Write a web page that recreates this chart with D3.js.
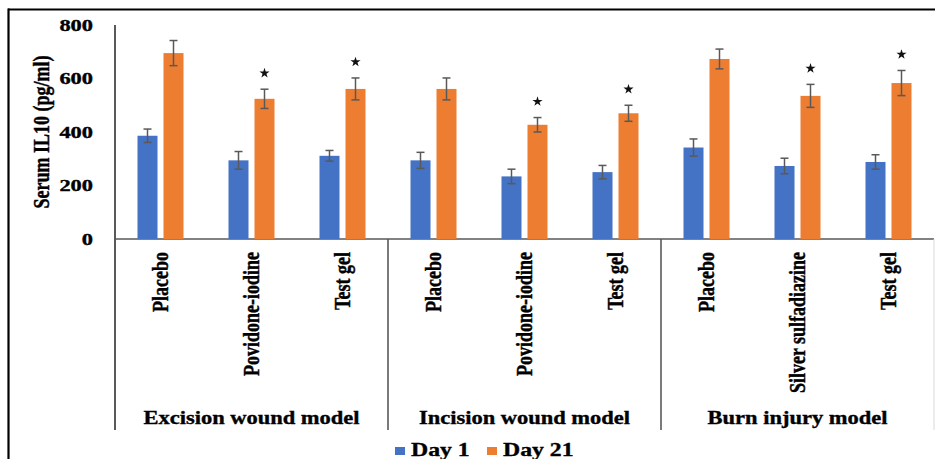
<!DOCTYPE html>
<html>
<head>
<meta charset="utf-8">
<script src="https://cdn.jsdelivr.net/npm/d3@7"></script>
<style>
  html, body { margin: 0; padding: 0; background: #fff; }
  svg { display: block; }
  text { font-family: "Liberation Serif", "Times New Roman", serif; font-weight: bold; fill: #000;
         stroke: #000; stroke-width: 0.35px; }
</style>
</head>
<body>
<svg id="chart" width="935" height="459"></svg>
<script>
// Treatments in plotting order, grouped by wound model
const categories = ["Placebo", "Povidone-iodine", "Test gel",
                    "Placebo", "Povidone-iodine", "Test gel",
                    "Placebo", "Silver sulfadiazine", "Test gel"];
const groups = ["Excision wound model", "Incision wound model", "Burn injury model"];
const seriesNames = ["Day 1", "Day 21"];

// Serum IL10 (pg/ml), mean and error
const day1 = [386, 294, 311, 294, 234, 250, 342, 273, 288];
const day1Err = [25, 33, 20, 30, 27, 25, 32, 29, 27];
const day21 = [695, 524, 561, 561, 427, 470, 673, 535, 583];
const day21Err = [47, 36, 41, 41, 27, 30, 37, 43, 47];
// Day 21 significance markers
const significant = [false, true, true, false, true, true, false, true, true];

const yTicks = [0, 200, 400, 600, 800];
const colors = ["#4472C4", "#ED7D31"];

(function draw() {
  const svg = d3.select("#chart");
  const sx = 1.25;      // horizontal text stretch
  const tickSx = 1.4;   // wider numerals on the value axis

  const plotLeft = 115, plotRight = 934, plotTop = 25, plotBottom = 239, lowerEdge = 430;

  const ids = d3.range(categories.length);
  const x0 = d3.scaleBand().domain(ids).range([plotLeft, plotRight]).paddingInner(0).paddingOuter(0);
  const bw = x0.bandwidth();
  const x1 = d3.scaleBand().domain(seriesNames).range([bw / 2 - 23, bw / 2 + 23])
    .paddingInner(6 / 26).paddingOuter(0);
  const y = d3.scaleLinear().domain([0, 800]).range([plotBottom, plotTop]);

  // Outer frame
  svg.append("line").attr("x1", 8).attr("x2", 935).attr("y1", 9.5).attr("y2", 9.5)
    .attr("stroke", "#000").attr("stroke-width", 2.2);
  svg.append("line").attr("x1", 8.5).attr("x2", 8.5).attr("y1", 8.5).attr("y2", 459)
    .attr("stroke", "#000").attr("stroke-width", 2.2);

  // Y axis (labels, no tick marks)
  const yAxis = d3.axisLeft(y).tickValues(yTicks).tickSize(0).tickPadding(22);
  const yg = svg.append("g").attr("transform", `translate(${plotLeft},0)`).call(yAxis);
  yg.select(".domain").remove();
  yg.selectAll("text")
    .attr("font-family", "Liberation Serif").attr("font-weight", "bold")
    .attr("font-size", 16).attr("fill", "#000")
    .attr("transform", function () {
      const xr = +d3.select(this).attr("x");
      return `translate(${xr},0) scale(${tickSx},1) translate(${-xr},0)`;
    });
  svg.append("line").attr("x1", plotLeft).attr("x2", plotLeft).attr("y1", plotTop).attr("y2", lowerEdge)
    .attr("stroke", "#595959").attr("stroke-width", 2);

  // X axis baseline
  svg.append("line").attr("x1", plotLeft).attr("x2", plotRight).attr("y1", plotBottom).attr("y2", plotBottom)
    .attr("stroke", "#595959").attr("stroke-width", 1.6);

  // Group separators
  groups.forEach((g, i) => {
    const xe = x0(i * 3 + 2) + bw;
    const last = i === groups.length - 1;
    svg.append("line").attr("x1", xe).attr("x2", xe).attr("y1", plotBottom).attr("y2", lowerEdge)
      .attr("stroke", last ? "#d9d9d9" : "#595959")
      .attr("stroke-width", last ? 1 : 1.6);
  });

  // Y axis title
  svg.append("text")
    .attr("transform", `translate(41,132) scale(${sx},1) rotate(-90)`)
    .attr("text-anchor", "middle").attr("dy", "0.35em")
    .attr("font-size", 18)
    .text("Serum IL10 (pg/ml)");

  // Bars with error bars
  const series = [
    { name: seriesNames[0], values: day1, errs: day1Err, color: colors[0] },
    { name: seriesNames[1], values: day21, errs: day21Err, color: colors[1] }
  ];
  series.forEach(s => {
    const g = svg.append("g");
    g.selectAll("rect").data(ids).join("rect")
      .attr("x", i => x0(i) + x1(s.name))
      .attr("width", x1.bandwidth())
      .attr("y", i => y(s.values[i]))
      .attr("height", i => y(0) - y(s.values[i]))
      .attr("fill", s.color);
    const eb = g.selectAll("g.err").data(ids).join("g").attr("class", "err")
      .attr("stroke", "#595959").attr("stroke-width", 1.5);
    const cx = i => x0(i) + x1(s.name) + x1.bandwidth() / 2;
    eb.append("line").attr("x1", cx).attr("x2", cx)
      .attr("y1", i => y(s.values[i] + s.errs[i])).attr("y2", i => y(s.values[i] - s.errs[i]));
    eb.append("line").attr("x1", i => cx(i) - 4).attr("x2", i => cx(i) + 4)
      .attr("y1", i => y(s.values[i] + s.errs[i])).attr("y2", i => y(s.values[i] + s.errs[i]));
    eb.append("line").attr("x1", i => cx(i) - 4).attr("x2", i => cx(i) + 4)
      .attr("y1", i => y(s.values[i] - s.errs[i])).attr("y2", i => y(s.values[i] - s.errs[i]));
  });

  // Significance stars above Day 21 bars
  const star = d3.symbol().type(d3.symbolStar).size(32);
  svg.append("g").selectAll("path").data(ids.filter(i => significant[i])).join("path")
    .attr("d", star)
    .attr("fill", "#111")
    .attr("transform", i => `translate(${x0(i) + x1(seriesNames[1]) + x1.bandwidth() / 2},${y(day21[i] + day21Err[i]) - 16})`);

  // Category labels (rotated)
  svg.append("g").selectAll("text").data(ids).join("text")
    .attr("transform", i => `translate(${x0(i) + bw / 2},252) scale(${sx},1) rotate(-90)`)
    .attr("text-anchor", "end").attr("dy", "0.35em")
    .attr("font-size", 18)
    .text(i => categories[i]);

  // Group labels
  svg.append("g").selectAll("text").data(groups).join("text")
    .attr("transform", (g, i) => `translate(${x0(i * 3 + 1) + bw / 2},424) scale(${sx},1)`)
    .attr("text-anchor", "middle")
    .attr("font-size", 18)
    .text(g => g);

  // Legend
  const legendX = [395, 487];
  series.forEach((s, k) => {
    svg.append("rect").attr("x", legendX[k]).attr("y", 447).attr("width", 10).attr("height", 8)
      .attr("fill", s.color);
    svg.append("text")
      .attr("transform", `translate(${legendX[k] + 16},456) scale(${sx},1)`)
      .attr("font-size", 19)
      .text(s.name);
  });
})();
</script>
</body>
</html>
